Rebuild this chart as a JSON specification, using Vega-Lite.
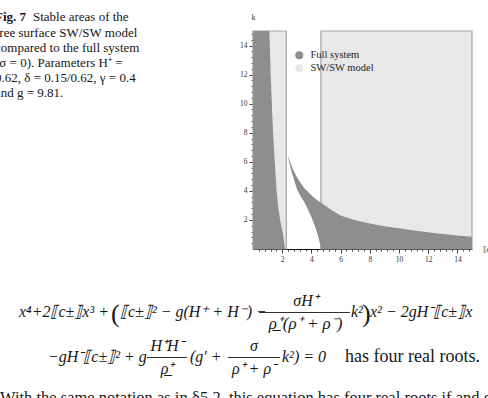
{
  "$schema": "https://vega.github.io/schema/vega-lite/v6.json",
  "autosize": "none",
  "width": 219,
  "height": 218,
  "padding": {"left": 253, "top": 31, "right": 16, "bottom": 149},
  "background": "white",
  "config": {
    "view": {"stroke": null},
    "text": {"font": "Liberation Serif", "color": "#161616", "align": "left", "baseline": "alphabetic"}
  },
  "resolve": {"axis": {"x": "independent", "y": "independent"}},
  "datasets": {
    "boxes": [
      {"series": "SW/SW model", "x0": 0, "x1": 2.28, "k0": 0, "k1": 15},
      {"series": "SW/SW model", "x0": 4.65, "x1": 15, "k0": 0, "k1": 15}
    ],
    "left": [
      {"k": 0, "x": 2.2}, {"k": 0.5, "x": 2.13}, {"k": 1, "x": 2.06}, {"k": 1.5, "x": 1.96},
      {"k": 2, "x": 1.86}, {"k": 3, "x": 1.71}, {"k": 4, "x": 1.62}, {"k": 5, "x": 1.55},
      {"k": 6, "x": 1.49}, {"k": 7, "x": 1.43}, {"k": 8, "x": 1.38}, {"k": 9, "x": 1.33},
      {"k": 10, "x": 1.29}, {"k": 11, "x": 1.25}, {"k": 12, "x": 1.21}, {"k": 13, "x": 1.18},
      {"k": 14, "x": 1.15}, {"k": 15, "x": 1.12}
    ],
    "right": [
      {"x": 2.37, "lo": 6.47, "hi": 6.47}, {"x": 2.5, "lo": 5.85, "hi": 6.1},
      {"x": 2.75, "lo": 4.95, "hi": 5.45}, {"x": 3.0, "lo": 4.15, "hi": 4.95},
      {"x": 3.25, "lo": 3.65, "hi": 4.55}, {"x": 3.5, "lo": 3.25, "hi": 4.2},
      {"x": 3.75, "lo": 2.75, "hi": 3.95}, {"x": 4.0, "lo": 2.2, "hi": 3.7},
      {"x": 4.25, "lo": 1.55, "hi": 3.48}, {"x": 4.45, "lo": 0.95, "hi": 3.33},
      {"x": 4.58, "lo": 0.4, "hi": 3.24}, {"x": 4.66, "lo": 0, "hi": 3.18},
      {"x": 5, "lo": 0, "hi": 2.95}, {"x": 5.5, "lo": 0, "hi": 2.6},
      {"x": 6, "lo": 0, "hi": 2.3}, {"x": 7, "lo": 0, "hi": 1.98},
      {"x": 8, "lo": 0, "hi": 1.75}, {"x": 9, "lo": 0, "hi": 1.57},
      {"x": 10, "lo": 0, "hi": 1.42}, {"x": 11, "lo": 0, "hi": 1.28},
      {"x": 12, "lo": 0, "hi": 1.15}, {"x": 13, "lo": 0, "hi": 1.03},
      {"x": 14, "lo": 0, "hi": 0.93}, {"x": 15, "lo": 0, "hi": 0.85}
    ]
  },
  "data": {"values": [{}]},
  "layer": [
    {
      "data": {"name": "boxes"},
      "mark": {"type": "rect", "stroke": "#a3a3a3", "strokeWidth": 1.2},
      "encoding": {
        "x": {"field": "x0", "type": "quantitative", "scale": {"domain": [0, 15], "nice": false, "zero": false},
          "axis": {
            "values": [0.4,0.8,1.2,1.6,2,2.4,2.8,3.2,3.6,4,4.4,4.8,5.2,5.6,6,6.4,6.8,7.2,7.6,8,8.4,8.8,9.2,9.6,10,10.4,10.8,11.2,11.6,12,12.4,12.8,13.2,13.6,14,14.4,14.8],
            "labelExpr": "abs(datum.value/2 - round(datum.value/2)) < 0.001 ? format(datum.value, 'd') : ''",
            "tickSize": {"condition": {"test": "abs(datum.value/2 - round(datum.value/2)) < 0.001", "value": 4}, "value": 2},
            "grid": false, "domainColor": "#111", "tickColor": "#111", "domainWidth": 1, "tickWidth": 0.8,
            "labelFont": "Liberation Serif", "labelFontSize": 7.5, "labelColor": "#333", "labelPadding": 2, "labelFlush": false, "labelOverlap": false, "labelBound": false,
            "title": "⟦c⟧", "titleFont": "Liberation Serif", "titleFontSize": 8, "titleFontWeight": "normal", "titleColor": "#333",
            "titleX": 229, "titleY": 0, "titleAlign": "left", "titleBaseline": "middle"
          }},
        "x2": {"field": "x1"},
        "y": {"field": "k0", "type": "quantitative", "scale": {"domain": [0, 15], "nice": false, "zero": false},
          "axis": {
            "values": [0.4,0.8,1.2,1.6,2,2.4,2.8,3.2,3.6,4,4.4,4.8,5.2,5.6,6,6.4,6.8,7.2,7.6,8,8.4,8.8,9.2,9.6,10,10.4,10.8,11.2,11.6,12,12.4,12.8,13.2,13.6,14,14.4,14.8],
            "labelExpr": "abs(datum.value/2 - round(datum.value/2)) < 0.001 ? format(datum.value, 'd') : ''",
            "tickSize": {"condition": {"test": "abs(datum.value/2 - round(datum.value/2)) < 0.001", "value": 4}, "value": 2},
            "grid": false, "domainColor": "#111", "tickColor": "#111", "domainWidth": 1, "tickWidth": 0.8,
            "labelFont": "Liberation Serif", "labelFontSize": 7.5, "labelColor": "#333", "labelPadding": 2, "labelFlush": false, "labelOverlap": false, "labelBound": false,
            "title": "k", "titleFont": "Liberation Serif", "titleFontSize": 8, "titleFontWeight": "normal", "titleColor": "#333",
            "titleAngle": 0, "titleX": 0, "titleY": -14, "titleAlign": "center", "titleBaseline": "middle"
          }},
        "y2": {"field": "k1"},
        "color": {"datum": "SW/SW model", "type": "nominal",
          "scale": {"domain": ["Full system", "SW/SW model"], "range": ["#8e8e8e", "#e8e8e8"]},
          "legend": {"orient": "none", "legendX": 41, "legendY": 19, "title": null, "padding": 0,
            "symbolType": "circle", "symbolSize": 64, "symbolStrokeWidth": 0, "symbolOpacity": 1,
            "labelFont": "Liberation Serif", "labelFontSize": 10.5, "labelColor": "#222", "labelOffset": 6, "rowPadding": 2}}
      }
    },
    {
      "data": {"name": "left"},
      "mark": {"type": "area", "orient": "horizontal", "opacity": 1},
      "encoding": {
        "y": {"field": "k", "type": "quantitative", "scale": {"domain": [0, 15], "nice": false, "zero": false}, "axis": null},
        "x": {"field": "x", "type": "quantitative", "stack": null, "scale": {"domain": [0, 15], "nice": false, "zero": false}, "axis": null},
        "color": {"datum": "Full system", "type": "nominal"}
      }
    },
    {
      "data": {"name": "right"},
      "mark": {"type": "area", "opacity": 1},
      "encoding": {
        "x": {"field": "x", "type": "quantitative", "scale": {"domain": [0, 15], "nice": false, "zero": false}, "axis": null},
        "y": {"field": "hi", "type": "quantitative", "stack": null, "scale": {"domain": [0, 15], "nice": false, "zero": false}, "axis": null},
        "y2": {"field": "lo"},
        "color": {"datum": "Full system", "type": "nominal"}
      }
    },
    {
      "mark": {"type": "text", "text": "Fig. 7", "fontSize": 13, "fontWeight": "bold"},
      "encoding": {"x": {"datum": -17.67, "scale": {"domain": [0, 15], "nice": false, "zero": false}, "axis": null}, "y": {"datum": 15.688, "scale": {"domain": [0, 15], "nice": false, "zero": false}, "axis": null}}
    },
    {
      "mark": {"type": "text", "text": "Stable areas of the", "fontSize": 13},
      "encoding": {"x": {"datum": -15.07, "scale": {"domain": [0, 15], "nice": false, "zero": false}, "axis": null}, "y": {"datum": 15.688, "scale": {"domain": [0, 15], "nice": false, "zero": false}, "axis": null}}
    },
    {
      "mark": {"type": "text", "text": ["free surface SW/SW model", "compared to the full system", "(σ = 0). Parameters H⁺ =", "0.62, δ = 0.15/0.62, γ = 0.4", "and g = 9.81."], "fontSize": 13, "lineHeight": 15},
      "encoding": {"x": {"datum": -17.67, "scale": {"domain": [0, 15], "nice": false, "zero": false}, "axis": null}, "y": {"datum": 14.587, "scale": {"domain": [0, 15], "nice": false, "zero": false}, "axis": null}}
    },
    {
      "mark": {"type": "text", "text": "x⁴+2⟦c±⟧x³ +", "fontSize": 16, "fontStyle": "italic"},
      "encoding": {"x": {"datum": -16.03, "scale": {"domain": [0, 15], "nice": false, "zero": false}, "axis": null}, "y": {"datum": -4.679, "scale": {"domain": [0, 15], "nice": false, "zero": false}, "axis": null}}
    },
    {
      "mark": {"type": "text", "text": "(", "fontSize": 26},
      "encoding": {"x": {"datum": -9.726, "scale": {"domain": [0, 15], "nice": false, "zero": false}, "axis": null}, "y": {"datum": -5.023, "scale": {"domain": [0, 15], "nice": false, "zero": false}, "axis": null}}
    },
    {
      "mark": {"type": "text", "text": "⟦c±⟧² − g(H⁺ + H⁻) −", "fontSize": 16, "fontStyle": "italic"},
      "encoding": {"x": {"datum": -9.11, "scale": {"domain": [0, 15], "nice": false, "zero": false}, "axis": null}, "y": {"datum": -4.679, "scale": {"domain": [0, 15], "nice": false, "zero": false}, "axis": null}}
    },
    {
      "mark": {"type": "text", "text": "σH⁺", "fontSize": 16, "fontStyle": "italic", "align": "center"},
      "encoding": {"x": {"datum": 3.6, "scale": {"domain": [0, 15], "nice": false, "zero": false}, "axis": null}, "y": {"datum": -3.888, "scale": {"domain": [0, 15], "nice": false, "zero": false}, "axis": null}}
    },
    {
      "mark": {"type": "rule", "color": "#161616", "strokeWidth": 0.9},
      "encoding": {"x": {"datum": 0.41, "scale": {"domain": [0, 15], "nice": false, "zero": false}, "axis": null}, "x2": {"datum": 6.644}, "y": {"datum": -4.369, "scale": {"domain": [0, 15], "nice": false, "zero": false}, "axis": null}}
    },
    {
      "mark": {"type": "text", "text": "ρ̲⁺(ρ⁺ + ρ⁻)", "fontSize": 17, "fontStyle": "italic", "align": "center"},
      "encoding": {"x": {"datum": 3.6, "scale": {"domain": [0, 15], "nice": false, "zero": false}, "axis": null}, "y": {"datum": -5.505, "scale": {"domain": [0, 15], "nice": false, "zero": false}, "axis": null}}
    },
    {
      "mark": {"type": "text", "text": "k²", "fontSize": 16, "fontStyle": "italic"},
      "encoding": {"x": {"datum": 6.712, "scale": {"domain": [0, 15], "nice": false, "zero": false}, "axis": null}, "y": {"datum": -4.679, "scale": {"domain": [0, 15], "nice": false, "zero": false}, "axis": null}}
    },
    {
      "mark": {"type": "text", "text": ")", "fontSize": 26},
      "encoding": {"x": {"datum": 7.466, "scale": {"domain": [0, 15], "nice": false, "zero": false}, "axis": null}, "y": {"datum": -5.023, "scale": {"domain": [0, 15], "nice": false, "zero": false}, "axis": null}}
    },
    {
      "mark": {"type": "text", "text": "x² − 2gH⁻⟦c±⟧x", "fontSize": 16, "fontStyle": "italic"},
      "encoding": {"x": {"datum": 8.014, "scale": {"domain": [0, 15], "nice": false, "zero": false}, "axis": null}, "y": {"datum": -4.679, "scale": {"domain": [0, 15], "nice": false, "zero": false}, "axis": null}}
    },
    {
      "mark": {"type": "text", "text": "−gH⁻⟦c±⟧² + g", "fontSize": 16, "fontStyle": "italic"},
      "encoding": {"x": {"datum": -14.041, "scale": {"domain": [0, 15], "nice": false, "zero": false}, "axis": null}, "y": {"datum": -7.775, "scale": {"domain": [0, 15], "nice": false, "zero": false}, "axis": null}}
    },
    {
      "mark": {"type": "text", "text": "H⁺H⁻", "fontSize": 16, "fontStyle": "italic", "align": "center"},
      "encoding": {"x": {"datum": -5.89, "scale": {"domain": [0, 15], "nice": false, "zero": false}, "axis": null}, "y": {"datum": -6.984, "scale": {"domain": [0, 15], "nice": false, "zero": false}, "axis": null}}
    },
    {
      "mark": {"type": "rule", "color": "#161616", "strokeWidth": 0.9},
      "encoding": {"x": {"datum": -7.26, "scale": {"domain": [0, 15], "nice": false, "zero": false}, "axis": null}, "x2": {"datum": -4.521}, "y": {"datum": -7.466, "scale": {"domain": [0, 15], "nice": false, "zero": false}, "axis": null}}
    },
    {
      "mark": {"type": "text", "text": "ρ̲⁺", "fontSize": 16, "fontStyle": "italic", "align": "center"},
      "encoding": {"x": {"datum": -5.89, "scale": {"domain": [0, 15], "nice": false, "zero": false}, "axis": null}, "y": {"datum": -8.601, "scale": {"domain": [0, 15], "nice": false, "zero": false}, "axis": null}}
    },
    {
      "mark": {"type": "text", "text": "(g′ +", "fontSize": 16, "fontStyle": "italic"},
      "encoding": {"x": {"datum": -4.315, "scale": {"domain": [0, 15], "nice": false, "zero": false}, "axis": null}, "y": {"datum": -7.775, "scale": {"domain": [0, 15], "nice": false, "zero": false}, "axis": null}}
    },
    {
      "mark": {"type": "text", "text": "σ", "fontSize": 16, "fontStyle": "italic", "align": "center"},
      "encoding": {"x": {"datum": 0.068, "scale": {"domain": [0, 15], "nice": false, "zero": false}, "axis": null}, "y": {"datum": -6.984, "scale": {"domain": [0, 15], "nice": false, "zero": false}, "axis": null}}
    },
    {
      "mark": {"type": "rule", "color": "#161616", "strokeWidth": 0.9},
      "encoding": {"x": {"datum": -1.712, "scale": {"domain": [0, 15], "nice": false, "zero": false}, "axis": null}, "x2": {"datum": 1.849}, "y": {"datum": -7.466, "scale": {"domain": [0, 15], "nice": false, "zero": false}, "axis": null}}
    },
    {
      "mark": {"type": "text", "text": "ρ⁺ + ρ⁻", "fontSize": 16, "fontStyle": "italic", "align": "center"},
      "encoding": {"x": {"datum": 0.068, "scale": {"domain": [0, 15], "nice": false, "zero": false}, "axis": null}, "y": {"datum": -8.601, "scale": {"domain": [0, 15], "nice": false, "zero": false}, "axis": null}}
    },
    {
      "mark": {"type": "text", "text": "k²) = 0", "fontSize": 16, "fontStyle": "italic"},
      "encoding": {"x": {"datum": 1.986, "scale": {"domain": [0, 15], "nice": false, "zero": false}, "axis": null}, "y": {"datum": -7.775, "scale": {"domain": [0, 15], "nice": false, "zero": false}, "axis": null}}
    },
    {
      "mark": {"type": "text", "text": "has four real roots.", "fontSize": 18},
      "encoding": {"x": {"datum": 6.301, "scale": {"domain": [0, 15], "nice": false, "zero": false}, "axis": null}, "y": {"datum": -7.775, "scale": {"domain": [0, 15], "nice": false, "zero": false}, "axis": null}}
    },
    {
      "mark": {"type": "text", "text": "With the same notation as in §5.2, this equation has four real roots if and only if", "fontSize": 16.5},
      "encoding": {"x": {"datum": -17.33, "scale": {"domain": [0, 15], "nice": false, "zero": false}, "axis": null}, "y": {"datum": -10.597, "scale": {"domain": [0, 15], "nice": false, "zero": false}, "axis": null}}
    }
  ]
}
